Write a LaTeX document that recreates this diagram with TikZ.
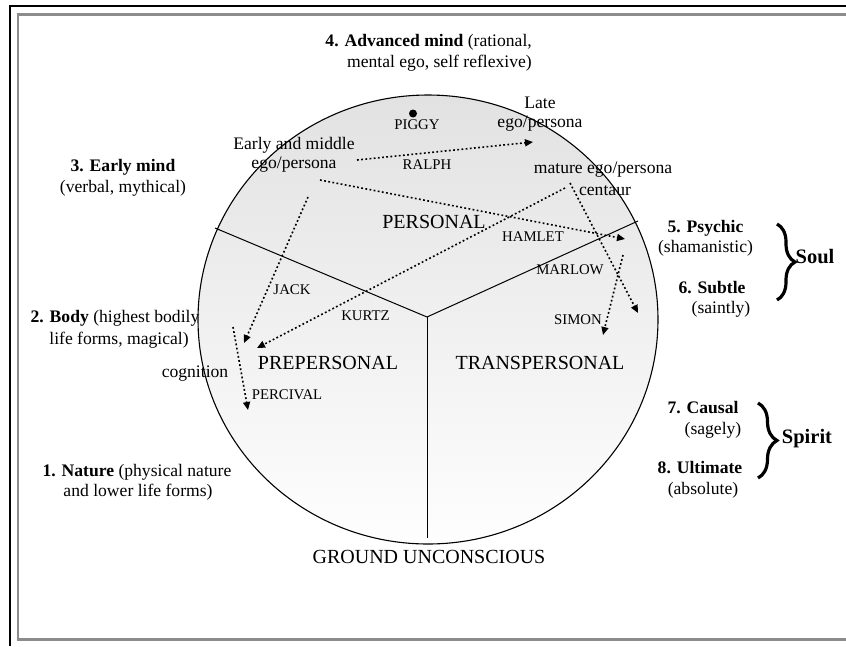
\documentclass[tikz,border=0pt]{standalone}
\usepackage{fontspec}
\setmainfont{Liberation Serif}
\usetikzlibrary{arrows.meta,decorations.pathreplacing}
\definecolor{shtop}{RGB}{226,226,226}
\definecolor{shbot}{RGB}{254,254,254}
\definecolor{framegray}{RGB}{140,140,140}
\begin{document}
\begin{tikzpicture}[x=1pt,y=-1pt,
  lbl/.style={font=\fontsize{17.6}{21}\selectfont, inner sep=0pt},
  sml/.style={font=\fontsize{14.8}{17}\selectfont, inner sep=0pt},
  big/.style={font=\fontsize{20}{24}\selectfont, inner sep=0pt},
  bigb/.style={font=\fontsize{20.5}{24}\selectfont\bfseries, inner sep=0pt},
  dotarrow/.style={line width=1.6pt, dash pattern=on 1.8pt off 2.4pt, -{Triangle[length=8pt,width=7pt]}},
  divider/.style={line width=1pt},
  bracestyle/.style={decorate, decoration={brace, amplitude=#1}, line width=3.2pt}
]
\useasboundingbox (0,0) rectangle (846,646);
% frame
\draw[line width=2.3pt] (10,646) -- (10,6) -- (846,6);
\draw[line width=2.3pt, framegray] (846,14.5) -- (18,14.5) -- (18,639.5) -- (846,639.5);
% circle
\shade[top color=shtop, bottom color=shbot] (428,319.5) ellipse [x radius=230pt, y radius=224.5pt];
\draw[line width=1.1pt] (428,319.5) ellipse [x radius=230pt, y radius=224.5pt];
% dividers
\coordinate (hub) at (427,317);
\coordinate (ul) at (215,228);
\coordinate (ur) at (638,221);
\coordinate (dn) at (427,538);
\draw[divider] (ul) -- (hub) -- (ur);
\draw[divider] (hub) -- (dn);
% piggy dot
\node[circle, fill, inner sep=0pt, minimum size=8pt] (piggydot) at (413,113.5) {};
% top labels
\node[lbl, anchor=east] (adv1) at (532,42) {\textbf{4. Advanced mind} (rational,};
\node[lbl, anchor=east] (adv2) at (532,63) {mental ego, self reflexive)};
\node[lbl] (late1) at (540,103) {Late};
\node[lbl] (late2) at (540,124) {ego/persona};
\node[lbl] (early1) at (294,145) {Early and middle};
\node[lbl] (early2) at (294,165) {ego/persona};
\node[lbl] (mature) at (603,170) {mature ego/persona};
\node[lbl] (centaur) at (605,191) {centaur};
\node[lbl] (cognition) at (195,374) {cognition};
% left labels
\node[lbl] (em1) at (123,167) {\textbf{3. Early mind}};
\node[lbl] (em2) at (123,188) {(verbal, mythical)};
\node[lbl] (body1) at (115,318) {\textbf{2. Body} (highest bodily};
\node[lbl] (body2) at (119,340) {life forms, magical)};
\node[lbl] (nat1) at (137,472) {\textbf{1. Nature} (physical nature};
\node[lbl] (nat2) at (138,492) {and lower life forms)};
% right labels
\node[lbl] (psy1) at (705.5,228) {\textbf{5. Psychic}};
\node[lbl] (psy2) at (705.5,248) {(shamanistic)};
\node[lbl] (sub1) at (712,288) {\textbf{6. Subtle}};
\node[lbl] (sub2) at (721,309) {(saintly)};
\node[lbl] (cau1) at (703,408) {\textbf{7. Causal}};
\node[lbl] (cau2) at (713,430) {(sagely)};
\node[lbl] (ult1) at (700,468) {\textbf{8. Ultimate}};
\node[lbl] (ult2) at (703,490) {(absolute)};
\node[bigb] (soul) at (815,257) {Soul};
\node[bigb] (spirit) at (807,439) {Spirit};
\coordinate (soultop) at (777,224);
\coordinate (soulbot) at (777,300);
\coordinate (spirtop) at (758,403);
\coordinate (spirbot) at (758,478);
\draw[bracestyle=18pt] (soultop) -- (soulbot);
\draw[bracestyle=19pt] (spirtop) -- (spirbot);
% character names
\node[sml] (piggy) at (417,125) {PIGGY};
\node[sml] (ralph) at (427,165) {RALPH};
\node[sml] (jack) at (292,290) {JACK};
\node[sml] (kurtz) at (365.5,316) {KURTZ};
\node[sml] (percival) at (287,395) {PERCIVAL};
\node[sml] (hamlet) at (533,237) {HAMLET};
\node[sml] (marlow) at (570,270) {MARLOW};
\node[sml] (simon) at (578,320) {SIMON};
% region names
\node[big] (personal) at (434,222) {PERSONAL};
\node[big] (prepersonal) at (328,363) {PREPERSONAL};
\node[big] (transpersonal) at (540,363) {TRANSPERSONAL};
\node[big] (ground) at (429,557) {GROUND UNCONSCIOUS};
% arrows
\coordinate (ralphS) at (357,160);  \coordinate (ralphE) at (533,142);
\coordinate (hamS) at (320,180);    \coordinate (hamE) at (625,239);
\coordinate (kurS) at (565,188);    \coordinate (kurE) at (257,348);
\coordinate (marS) at (570,183);    \coordinate (marE) at (638,313);
\coordinate (simS) at (623,255);    \coordinate (simE) at (603,335);
\coordinate (jackS) at (308,197);   \coordinate (jackE) at (244,343);
\coordinate (perS) at (233,327);    \coordinate (perE) at (248,410);
\draw[dotarrow] (ralphS) -- (ralphE);
\draw[dotarrow] (hamS) -- (hamE);
\draw[dotarrow] (kurS) -- (kurE);
\draw[dotarrow] (marS) -- (marE);
\draw[dotarrow] (simS) -- (simE);
\draw[dotarrow] (jackS) -- (jackE);
\draw[dotarrow] (perS) -- (perE);
\end{tikzpicture}
\end{document}
